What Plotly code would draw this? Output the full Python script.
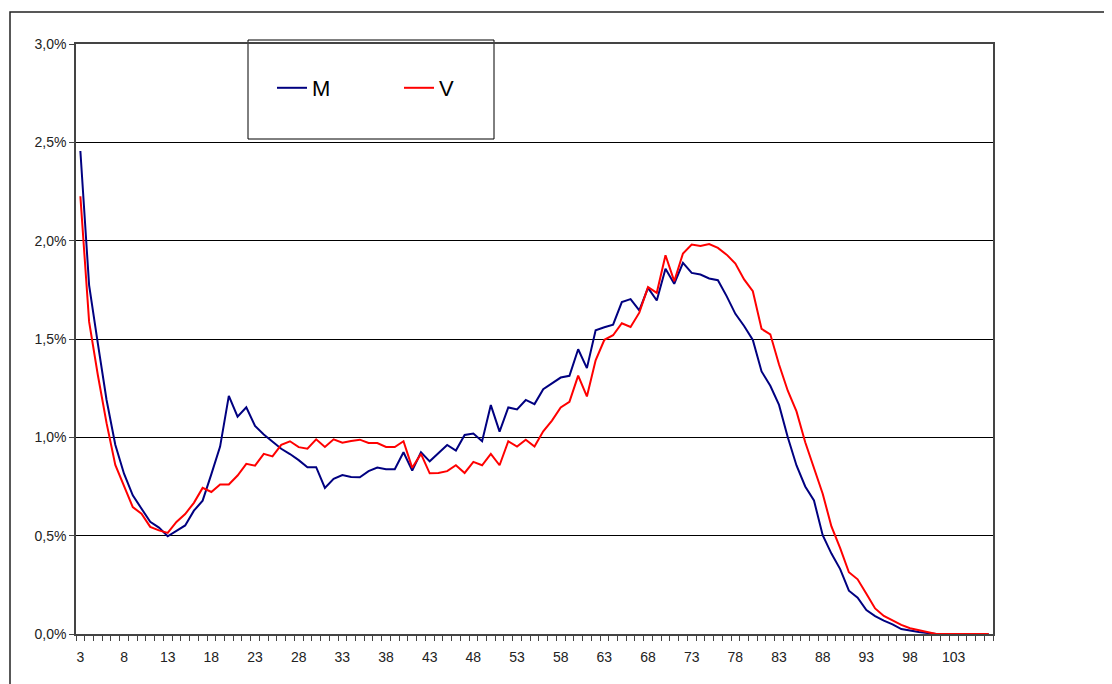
import plotly.graph_objects as go

ages = list(range(3, 108))

m_values = [
    2.456, 1.774, 1.478, 1.190, 0.962, 0.815, 0.705, 0.637, 0.570, 0.541,
    0.497, 0.524, 0.552, 0.627, 0.678, 0.813, 0.953, 1.211, 1.105, 1.153,
    1.058, 1.014, 0.979, 0.942, 0.915, 0.884, 0.848, 0.848, 0.743, 0.789,
    0.808, 0.798, 0.797, 0.828, 0.846, 0.838, 0.838, 0.924, 0.831, 0.924,
    0.878, 0.919, 0.961, 0.933, 1.012, 1.019, 0.980, 1.164, 1.029, 1.152,
    1.142, 1.190, 1.169, 1.245, 1.274, 1.304, 1.313, 1.448, 1.352, 1.544,
    1.560, 1.573, 1.688, 1.703, 1.646, 1.760, 1.696, 1.857, 1.781, 1.887,
    1.836, 1.828, 1.808, 1.799, 1.718, 1.628, 1.566, 1.495, 1.335, 1.262,
    1.165, 1.000, 0.857, 0.750, 0.679, 0.502, 0.409, 0.330, 0.220, 0.185,
    0.122, 0.091, 0.068, 0.049, 0.025, 0.017, 0.010, 0.005, 0.0, 0.0,
    0.0, 0.0, 0.0, 0.0, 0.0,
]

v_values = [
    2.226, 1.588, 1.317, 1.072, 0.860, 0.755, 0.645, 0.612, 0.545, 0.527,
    0.514, 0.570, 0.610, 0.667, 0.743, 0.722, 0.760, 0.760, 0.806, 0.865,
    0.856, 0.916, 0.903, 0.962, 0.980, 0.950, 0.942, 0.990, 0.951, 0.990,
    0.973, 0.981, 0.988, 0.971, 0.971, 0.951, 0.951, 0.980, 0.845, 0.916,
    0.817, 0.819, 0.828, 0.858, 0.819, 0.875, 0.858, 0.916, 0.858, 0.980,
    0.953, 0.988, 0.953, 1.031, 1.085, 1.152, 1.181, 1.314, 1.208, 1.392,
    1.496, 1.519, 1.580, 1.561, 1.634, 1.764, 1.735, 1.926, 1.794, 1.935,
    1.980, 1.973, 1.983, 1.963, 1.929, 1.884, 1.803, 1.743, 1.551, 1.524,
    1.370, 1.237, 1.132, 0.975, 0.848, 0.713, 0.547, 0.437, 0.314, 0.278,
    0.205, 0.130, 0.092, 0.068, 0.046, 0.029, 0.020, 0.010, 0.0, 0.0,
    0.0, 0.0, 0.0, 0.0, 0.0,
]

x_tick_values = list(range(3, 104, 5))
x_tick_labels = [str(v) for v in x_tick_values]
y_tick_values = [0.0, 0.5, 1.0, 1.5, 2.0, 2.5, 3.0]
y_tick_labels = ["0,0%", "0,5%", "1,0%", "1,5%", "2,0%", "2,5%", "3,0%"]

fig = go.Figure()
fig.add_trace(go.Scatter(x=ages, y=m_values, mode="lines", name="M",
                         line=dict(color="#000080", width=2)))
fig.add_trace(go.Scatter(x=ages, y=v_values, mode="lines", name="V",
                         line=dict(color="#FF0000", width=2)))

OFF = 8  # page body margin
W, H = 1104, 676
L, T = 76 - OFF, 44 - OFF
pw, ph = 917, 590
R = W - L - pw
B = H - T - ph

def px_x(screen):
    return (screen - OFF - L) / pw

def px_y(screen):
    return (T + ph - (screen - OFF)) / ph

fig.update_layout(
    width=W, height=H,
    margin=dict(l=L, r=R, t=T, b=B, pad=0),
    paper_bgcolor="white", plot_bgcolor="white",
    font=dict(family="Liberation Sans", size=14, color="#222"),
    showlegend=True,
    legend=dict(
        orientation="h", x=px_x(272), y=px_y(88), xanchor="left", yanchor="middle",
        bgcolor="rgba(0,0,0,0)", borderwidth=0,
        font=dict(family="Liberation Sans", size=22, color="#000"),
        entrywidth=82, entrywidthmode="pixels",
    ),
    xaxis=dict(
        range=[2.5, 107.5], tickmode="array", tickvals=x_tick_values,
        ticktext=x_tick_labels, ticks="", showgrid=False, zeroline=False,
        showline=True, linecolor="#444", linewidth=1.5, mirror=True,
        tickfont=dict(size=14, color="#222"), ticklabelstandoff=9,
        minor=dict(tickmode="linear", tick0=2.5, dtick=1, ticks="outside",
                   ticklen=5, tickcolor="#444", showgrid=False),
    ),
    yaxis=dict(
        range=[0, 3.0], tickmode="array", tickvals=y_tick_values,
        ticktext=y_tick_labels, ticks="outside", ticklen=5, tickcolor="#444",
        showgrid=True, gridcolor="#000", gridwidth=1, zeroline=False,
        showline=True, linecolor="#444", linewidth=1.5, mirror=True,
        tickfont=dict(size=14, color="#222"),
    ),
    shapes=[
        dict(type="rect", xref="paper", yref="paper",
             x0=px_x(248), x1=px_x(494), y0=px_y(139), y1=px_y(40),
             line=dict(color="#000", width=1), fillcolor="white", layer="between"),
        dict(type="rect", xref="paper", yref="paper",
             x0=px_x(10), x1=px_x(1140), y0=px_y(720), y1=px_y(12),
             line=dict(color="#222", width=1.5), fillcolor="rgba(0,0,0,0)",
             layer="above"),
    ],
)

fig.write_html("out.html")
